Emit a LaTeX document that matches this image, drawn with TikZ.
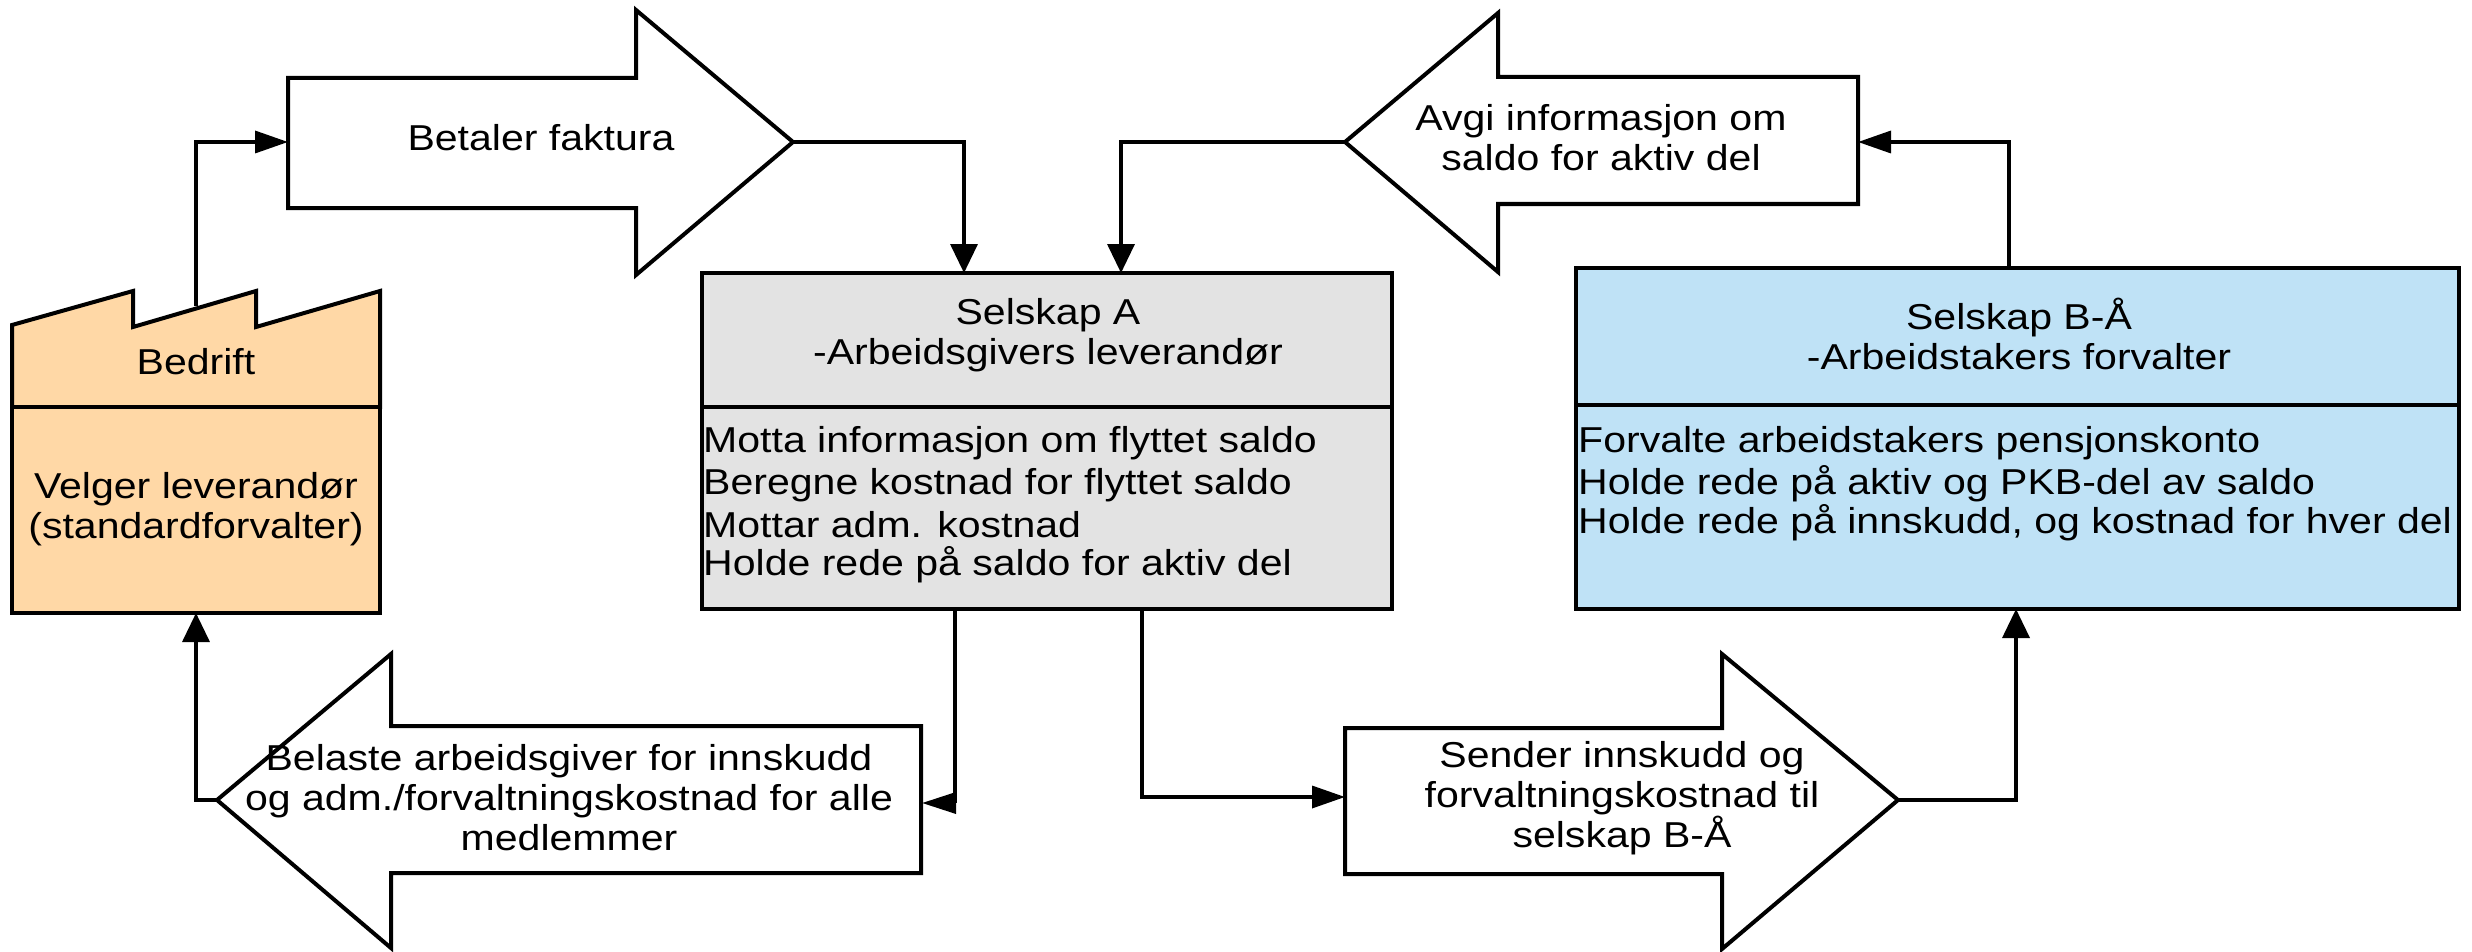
\documentclass[tikz,border=0pt]{standalone}
\usepackage{fontspec}
\setmainfont[FakeStretch=1.14]{Liberation Sans}
\usetikzlibrary{arrows.meta}
\definecolor{orangefill}{HTML}{FFD8A6}
\definecolor{grayfill}{HTML}{E3E3E3}
\definecolor{bluefill}{HTML}{BFE2F6}
% name, tip x, tail x, head base x, tip y, body top, body bottom, head top, head bottom
\newcommand{\blockarrow}[9]{%
  \draw[ln,fill=white,line join=miter] (#2,#5) -- (#4,#8) -- (#4,#6) -- (#3,#6) -- (#3,#7) -- (#4,#7) -- (#4,#9) -- cycle;
  \coordinate (#1tip) at (#2,#5);
  \coordinate (#1tail) at (#3,#5);
}
\tikzset{
  ln/.style={draw=black,line width=4pt},
  boxnode/.style={ln,rectangle,inner sep=0pt,outer sep=0pt,anchor=north west},
  txt/.style={align=center,inner sep=0pt,font=\fontsize{36}{40}\selectfont},
  ltxt/.style={anchor=west,inner sep=0pt,font=\fontsize{36}{40}\selectfont},
  vconn/.style={draw=black,line width=3.5pt,-{Triangle[length=29pt,width=27pt]}},
  hconn/.style={draw=black,line width=3.5pt,-{Triangle[length=33pt,width=22pt]}},
  skewconn/.style={draw=black,line width=3.5pt,-{Triangle[length=34pt,width=21pt]}},
}
\begin{document}
\begin{tikzpicture}[x=1pt,y=-1pt]
\useasboundingbox[fill=white] (0,0) rectangle (2472,952);
% Bedrift
\path[ln,fill=orangefill,line join=miter] (12,407) -- (12,325) -- (133,291) -- (133,327) -- (256,291) -- (256,327) -- (380,291) -- (380,407) -- cycle;
\node[boxnode,fill=orangefill,minimum width=368pt,minimum height=206pt] (velgerbox) at (12,407) {};
\node[txt] (bedrift) at (196,362) {Bedrift};
\node[txt] (velger) at (196,509) {Velger leverandør\\(standardforvalter)};
\coordinate (roofmid) at (196,306);
% Selskap A
\node[boxnode,fill=grayfill,minimum width=690pt,minimum height=336pt] (sA) at (702,273) {};
\draw[ln] (702,407) -- (1392,407);
\node[txt] (sAtitle) at (1048,335.5) {Selskap A\\-Arbeidsgivers leverandør};
\node[ltxt] (a1) at (703,443) {Motta informasjon om flyttet saldo};
\node[ltxt] (a2) at (703,485) {Beregne kostnad for flyttet saldo};
\node[ltxt] (a3) at (703,525) {Mottar adm. kostnad};
\node[ltxt] (a4) at (703,565) {Holde rede på saldo for aktiv del};
% Selskap B
\node[boxnode,fill=bluefill,minimum width=883pt,minimum height=341pt] (sB) at (1576,268) {};
\draw[ln] (1576,405) -- (2459,405);
\node[txt] (sBtitle) at (2019,334) {Selskap B-Å\\-Arbeidstakers forvalter};
\node[ltxt] (b1) at (1578,443) {Forvalte arbeidstakers pensjonskonto};
\node[ltxt] (b2) at (1578,484) {Holde rede på aktiv og PKB-del av saldo};
\node[ltxt] (b3) at (1578,523) {Holde rede på innskudd, og kostnad for hver del};
% Connector end points
\coordinate (aIn1) at (964,273);
\coordinate (aIn2) at (1121,273);
\coordinate (bOut) at (2009,268);
\coordinate (aOut1) at (955,609);
\coordinate (aOut2) at (1142,609);
\coordinate (bIn) at (2016,609);
\coordinate (velgerIn) at (196,613);
\coordinate (belasteIn) at (922,803);
\coordinate (senderIn) at (1345,797);
\coordinate (avgiIn) at (1858,142);
% Block arrows
\blockarrow{betaler}{793}{288}{636}{142}{78}{208}{10}{275}
\blockarrow{avgi}{1345}{1858}{1498}{142}{77}{204}{13}{272}
\blockarrow{belaste}{217}{921}{391}{800}{726}{873}{654}{948}
\blockarrow{sender}{1898}{1345}{1722}{800}{728}{874}{654}{949}
\node[txt] (betalertxt) at (541,138) {Betaler faktura};
\node[txt] (avgitxt) at (1601,138) {Avgi informasjon om\\saldo for aktiv del};
\node[txt] (belastetxt) at (569,798) {Belaste arbeidsgiver for innskudd\\og adm./forvaltningskostnad for alle\\medlemmer};
\node[txt] (sendertxt) at (1622,798) {Sender innskudd og\\forvaltningskostnad til\\selskap B-Å};
% Connectors
\draw[hconn] (roofmid) |- (betalertail);
\draw[vconn] (betalertip) -| (aIn1);
\draw[vconn] (avgitip) -| (aIn2);
\draw[hconn] (bOut) |- (avgiIn);
\draw[vconn] (belastetip) -| (velgerIn);
\draw[skewconn] (aOut1) |- (belasteIn);
\draw[hconn] (aOut2) |- (senderIn);
\draw[vconn] (sendertip) -| (bIn);
\end{tikzpicture}
\end{document}
